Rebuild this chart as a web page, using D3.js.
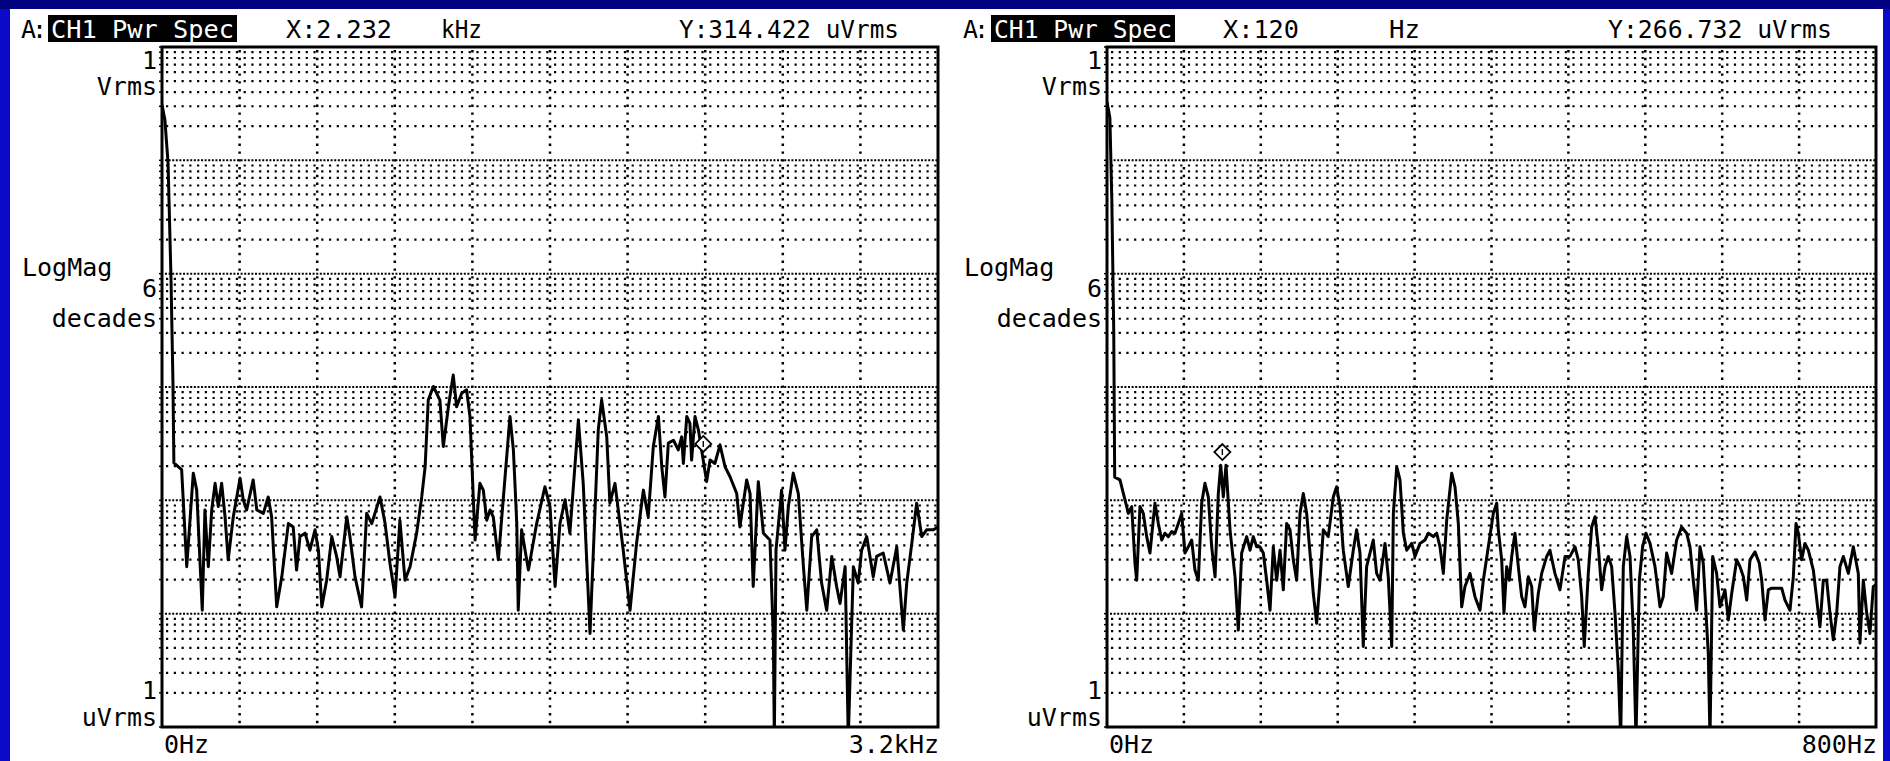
<!DOCTYPE html>
<html>
<head>
<meta charset="utf-8">
<script src="https://cdn.jsdelivr.net/npm/d3@7"></script>
<style>
  body { margin: 0; background: #fff; }
  svg { display: block; }
  text { font-family: "DejaVu Sans Mono", monospace; font-size: 25px; fill: #000; }
</style>
</head>
<body>
<svg id="chart"></svg>
<script>
// spectrum traces: [frequency Hz, magnitude dBuV]
const leftTrace = [
  [0,109.8],[12,107.1],[25,99.5],[37,79.4],[45,61.2],[49,46.6],[81,45.4],[102,28.3],[129,44.8],[143,41.8],
  [166,20.6],[177,38.3],[191,28.3],[205,38.3],[219,43.0],[232,38.9],[246,43.0],[260,37.1],[273,29.5],[294,37.1],
  [322,43.9],[335,40.1],[349,38.3],[376,43.6],[391,38.3],[418,37.7],[438,40.6],[452,37.1],[473,21.2],[494,26.5],
  [521,35.9],[541,35.3],[555,27.7],[569,33.6],[590,34.2],[610,31.2],[631,34.8],[645,31.2],[659,21.2],[679,25.9],
  [700,33.6],[720,30.1],[734,26.5],[762,37.1],[775,33.6],[796,26.5],[823,21.2],[844,37.7],[865,35.9],[899,40.6],
  [920,35.9],[940,28.9],[961,23.0],[981,36.5],[1002,25.9],[1023,28.3],[1050,34.2],[1071,40.6],[1085,45.9],[1098,57.7],
  [1119,60.1],[1146,57.7],[1160,49.5],[1181,56.5],[1201,62.1],[1215,56.5],[1236,58.9],[1256,59.5],[1270,54.8],[1284,40.1],
  [1291,33.0],[1311,43.0],[1325,41.8],[1339,36.5],[1353,38.3],[1366,37.1],[1387,29.5],[1407,40.1],[1435,54.8],[1449,48.9],
  [1463,35.9],[1469,20.6],[1483,34.8],[1511,27.7],[1545,35.9],[1579,42.4],[1600,38.9],[1621,24.8],[1641,35.9],[1662,40.1],
  [1682,34.2],[1717,54.2],[1737,43.0],[1765,16.5],[1779,31.2],[1799,52.4],[1813,57.7],[1834,51.2],[1847,39.5],[1868,43.0],
  [1902,31.2],[1930,20.6],[1957,32.4],[1985,41.8],[2005,37.1],[2026,49.5],[2047,54.8],[2061,45.9],[2074,40.6],[2088,50.1],
  [2109,50.6],[2129,48.9],[2143,51.2],[2150,46.5],[2164,54.8],[2177,53.6],[2184,47.1],[2198,54.8],[2212,52.4],[2246,43.3],
  [2260,47.1],[2280,46.5],[2301,49.8],[2322,45.9],[2342,44.2],[2370,41.2],[2383,35.3],[2411,43.6],[2425,41.2],[2438,24.8],
  [2459,43.3],[2480,34.2],[2507,33.0],[2521,15.9],[2525,-2],[2532,31.2],[2555,41.8],[2569,31.2],[2583,38.9],[2603,44.8],
  [2624,41.2],[2645,28.3],[2659,20.6],[2679,33.6],[2700,34.8],[2720,25.4],[2741,20.6],[2762,30.1],[2782,24.8],[2796,21.8],
  [2817,28.3],[2830,-2],[2851,28.3],[2871,25.4],[2885,31.2],[2906,33.6],[2933,26.5],[2947,30.1],[2974,30.7],[3002,25.4],
  [3030,31.8],[3057,17.1],[3071,25.4],[3092,32.4],[3112,39.5],[3133,33.6],[3153,34.8],[3181,34.8],[3200,35.3]
];

const rightTrace = [
  [0,110.3],[3,107.5],[5,93.0],[7,70.1],[8,44.1],[13.5,43.6],[18.7,40.1],[22.2,37.7],[25.7,38.9],[29.1,28.9],
  [30.9,25.9],[34.3,38.9],[37.8,37.7],[41.3,33.6],[44.7,30.7],[49.9,39.5],[53.4,35.9],[56.9,33.0],[60.3,34.2],[63.8,33.6],
  [67.3,34.5],[70.7,34.2],[74.2,35.9],[77.7,37.7],[81.1,30.7],[84.6,31.8],[88.1,33.0],[91.5,27.7],[95.0,25.9],[98.5,39.5],
  [101.9,43.0],[105.4,40.6],[108.9,31.8],[112.4,26.5],[115.8,41.2],[118.3,46.2],[121.0,40.6],[123.8,46.2],[128.0,34.8],[133.2,26.5],
  [136.6,17.1],[140.1,30.7],[145.3,33.6],[148.8,31.2],[152.2,33.6],[155.7,31.8],[159.1,31.8],[162.6,30.7],[166.1,25.9],[169.6,20.6],
  [173.0,31.8],[176.5,25.9],[180.0,31.2],[183.4,24.2],[186.9,35.9],[190.4,34.8],[193.8,29.5],[197.3,25.9],[200.8,37.7],[204.2,41.2],
  [207.7,37.7],[211.2,30.7],[214.6,23.6],[218.1,18.3],[221.6,25.9],[225.0,34.8],[230.2,33.6],[235.4,40.6],[238.9,42.4],[242.4,38.9],
  [245.8,31.2],[251.0,24.8],[256.2,31.2],[259.7,34.8],[263.2,30.7],[266.6,14.2],[270.1,28.3],[273.6,30.7],[277.0,33.0],[280.5,27.1],
  [284.0,25.9],[289.2,32.4],[292.6,26.5],[296.2,14.2],[297.9,37.7],[301.4,45.9],[304.8,43.6],[308.3,34.2],[311.8,31.2],[317.0,32.4],
  [320.4,30.1],[325.6,32.4],[330.8,33.0],[334.3,34.2],[339.5,33.6],[343.0,34.2],[346.4,31.8],[349.9,27.1],[353.4,36.5],[358.6,44.8],
  [362.0,42.4],[365.5,35.9],[369.0,21.2],[372.4,24.8],[377.6,27.1],[382.8,23.0],[388.0,20.6],[391.5,25.9],[396.7,31.8],[401.9,37.7],
  [405.4,39.5],[407.1,34.8],[410.6,29.5],[413.0,20.1],[415.8,28.3],[418.5,25.9],[421.0,30.1],[424.4,34.2],[427.9,28.3],[431.4,23.0],
  [434.8,21.2],[438.3,26.5],[441.8,24.8],[444.5,17.1],[448.7,23.6],[452.2,27.1],[457.4,30.1],[460.8,31.2],[466.0,27.1],[471.2,24.2],
  [476.5,30.1],[481.7,30.1],[486.9,31.8],[490.3,29.5],[493.8,23.0],[496.5,14.2],[500.7,27.1],[504.2,35.3],[507.7,37.1],[511.1,31.8],
  [514.6,24.2],[518.1,28.3],[521.5,30.1],[525.0,28.3],[528.5,20.1],[531.9,10.1],[534.4,-2],[537.1,28.3],[540.6,33.6],[544.1,30.1],
  [547.5,17.1],[550.3,-2],[553.8,25.9],[557.2,31.8],[560.7,34.2],[564.9,32.4],[570.1,28.3],[575.3,21.2],[578.7,23.0],[582.2,30.7],
  [587.4,27.1],[592.6,33.0],[597.8,35.3],[603.0,34.2],[606.5,31.8],[609.9,25.9],[613.4,20.6],[616.9,31.8],[620.3,28.9],[625.5,13.0],
  [627.3,-2],[630.1,30.1],[634.2,27.1],[637.7,21.2],[642.9,24.2],[646.4,18.9],[649.9,23.6],[655.1,29.5],[658.5,28.3],[662.0,26.5],
  [665.5,22.4],[668.9,29.5],[674.1,30.9],[678.6,28.9],[681.1,25.9],[684.5,18.9],[688.0,24.2],[691.5,24.5],[696.7,24.5],[701.9,24.5],
  [705.3,22.4],[710.5,20.6],[714.0,26.5],[716.8,35.9],[719.2,34.2],[722.6,29.5],[726.1,32.4],[729.6,31.2],[734.8,27.7],[740.0,20.1],
  [741.7,17.7],[745.2,25.9],[748.7,25.9],[752.1,20.1],[755.6,15.4],[759.1,20.1],[762.5,28.3],[766.0,30.1],[771.2,27.1],[776.4,31.8],
  [781.6,27.1],[783.3,14.8],[786.8,25.9],[790.3,20.1],[793.7,16.5],[797.2,24.8],[800,25.1]
];

// marker readouts (Hz, uVrms)
const leftMarker = [2232, 314.422];
const rightMarker = [120, 266.732];

const spans = [3200, 800];
const spanLabels = ["3.2kHz", "800Hz"];
const readX = ["X:2.232", "X:120"];
const readUnit = ["kHz", "Hz"];
const readY = ["Y:314.422 uVrms", "Y:266.732 uVrms"];

const W = 1890, H = 761;
const svg = d3.select("#chart").attr("width", W).attr("height", H);

// screen bezel
svg.append("rect").attr("width", W).attr("height", H).attr("fill", "#0a0ac8");
svg.append("rect").attr("width", W).attr("height", 9).attr("fill", "#000080");
svg.append("rect").attr("x", 10).attr("y", 9).attr("width", 1873).attr("height", H - 9).attr("fill", "#fff");

const panels = [
  { x0: 162, x1: 938, trace: leftTrace, marker: leftMarker, hdr: [22, 48, 189, 286, 441, 679], xw: 106, uw: 41, yw: 220 },
  { x0: 1107, x1: 1876, trace: rightTrace, marker: rightMarker, hdr: [964, 991, 184, 1223, 1389, 1608], xw: 76, uw: 31, yw: 224 }
];
const plotTop = 47, plotBottom = 727;

panels.forEach((p, i) => {
  const g = svg.append("g");
  const x = d3.scaleLinear().domain([0, spans[i]]).range([p.x0, p.x1]);
  const y = d3.scaleLog().domain([1, 1e6]).range([plotBottom, plotTop]);

  // horizontal grid: decades and log minors
  const yt = y.ticks();
  const isDecade = v => Math.abs(Math.log10(v) - Math.round(Math.log10(v))) < 1e-9;
  g.selectAll(".hminor").data(yt.filter(v => !isDecade(v)))
    .join("line")
    .attr("x1", p.x0 + 4).attr("x2", p.x1)
    .attr("y1", d => y(d)).attr("y2", d => y(d))
    .attr("stroke", "#000").attr("stroke-width", 2.2)
    .attr("stroke-dasharray", `2.2 ${(p.x1 - p.x0) / 100 - 2.2}`);
  g.selectAll(".hdec").data(yt.filter(v => isDecade(v) && v > 1 && v < 1e6))
    .join("line")
    .attr("x1", p.x0 + 3).attr("x2", p.x1)
    .attr("y1", d => y(d)).attr("y2", d => y(d))
    .attr("stroke", "#000").attr("stroke-width", 2)
    .attr("stroke-dasharray", "2 1.6");
  // little ticks left of the frame
  g.selectAll(".ytick").data(yt)
    .join("line")
    .attr("x1", p.x0 - 3).attr("x2", p.x0)
    .attr("y1", d => y(d)).attr("y2", d => y(d))
    .attr("stroke", "#000").attr("stroke-width", 1.5);

  // vertical grid, 10 divisions
  const xt = d3.range(1, 10).map(k => spans[i] * k / 10);
  g.selectAll(".vgrid").data(xt)
    .join("line")
    .attr("x1", d => x(d)).attr("x2", d => x(d))
    .attr("y1", plotTop + 3).attr("y2", plotBottom)
    .attr("stroke", "#000").attr("stroke-width", 2.5)
    .attr("stroke-dasharray", "2.4 5.4");

  // trace
  const clipId = "clip" + i;
  svg.append("clipPath").attr("id", clipId)
    .append("rect").attr("x", p.x0).attr("y", plotTop).attr("width", p.x1 - p.x0).attr("height", plotBottom - plotTop);
  const line = d3.line()
    .x(d => x(d[0]))
    .y(d => y(Math.pow(10, d[1] / 20)));
  g.append("path").datum(p.trace)
    .attr("clip-path", `url(#${clipId})`)
    .attr("d", line)
    .attr("fill", "none").attr("stroke", "#000")
    .attr("stroke-width", 3).attr("stroke-linejoin", "round");

  // frame
  g.append("rect").attr("x", p.x0).attr("y", plotTop)
    .attr("width", p.x1 - p.x0).attr("height", plotBottom - plotTop)
    .attr("fill", "none").attr("stroke", "#000").attr("stroke-width", 3);

  // marker diamond
  const mx = x(p.marker[0]), my = y(p.marker[1]);
  const mg = g.append("g").attr("transform", `translate(${mx},${my})`);
  mg.append("path").attr("d", "M0,-8L8,0L0,8L-8,0Z")
    .attr("fill", "#fff").attr("stroke", "#000").attr("stroke-width", 1.8);
  mg.append("line").attr("x1", 0).attr("x2", 0).attr("y1", -3).attr("y2", 3)
    .attr("stroke", "#000").attr("stroke-width", 1.4);

  // header line
  const h = p.hdr;
  const fit = (t, xx, w) => g.append("text").attr("x", xx).attr("y", 38)
    .attr("textLength", w).attr("lengthAdjust", "spacingAndGlyphs").text(t);
  g.append("text").attr("x", h[0] - 1).attr("y", 38).attr("letter-spacing", -4).text("A:");
  g.append("rect").attr("x", h[1]).attr("y", 15).attr("width", h[2]).attr("height", 27).attr("fill", "#000");
  fit("CH1 Pwr Spec", h[1] + 3, h[2] - 6).style("fill", "#fff");
  fit(readX[i], h[3], p.xw);
  fit(readUnit[i], h[4], p.uw);
  fit(readY[i], h[5], p.yw);

  // axis annotations
  const lx = p.x0 - 5;
  const right = (t, yy) => g.append("text").attr("x", lx).attr("y", yy).attr("text-anchor", "end").text(t);
  right("1", 69);
  right("Vrms", 95);
  right("6", 297);
  right("decades", 327);
  right("1", 699);
  right("uVrms", 726);
  g.append("text").attr("x", h[0]).attr("y", 276).text("LogMag");
  g.append("text").attr("x", p.x0 + 2).attr("y", 753).text("0Hz");
  g.append("text").attr("x", p.x1 + 1).attr("y", 753).attr("text-anchor", "end").text(spanLabels[i]);
});
</script>
</body>
</html>
